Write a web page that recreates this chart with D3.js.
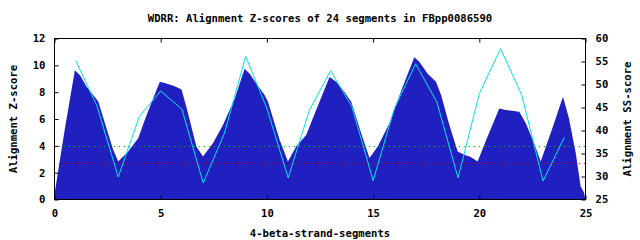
<!DOCTYPE html>
<html>
<head>
<meta charset="utf-8">
<script src="https://cdn.jsdelivr.net/npm/d3@7"></script>
<style>
  body { margin: 0; background: #fff; }
  text { font-family: "DejaVu Sans Mono", monospace; font-weight: bold; font-size: 10.6px; fill: #000; }
</style>
</head>
<body>
<div id="chart"></div>
<script>
// Z-score profile (filled area)
var zX = [0, 0.02, 0.18, 0.49, 0.96, 1.2, 1.51, 1.82, 2.06, 2.76, 3.0, 3.47, 3.94, 4.25, 4.64, 4.96,
          5.27, 5.66, 5.98, 6.21, 6.68, 6.99, 7.46, 7.93, 8.48, 8.95, 9.19, 9.5, 9.89, 10.05, 10.6,
          10.99, 11.38, 11.85, 12.32, 12.95, 13.26, 13.65, 13.97, 14.44, 14.83, 15.22, 15.77, 16.39,
          16.94, 17.18, 17.57, 17.96, 18.2, 18.59, 18.98, 19.29, 19.6, 19.92, 20.39, 20.94, 21.25,
          21.88, 22.19, 22.58, 22.89, 23.44, 23.94, 24.22, 24.54, 24.77, 24.93, 25];
var zY = [0, 0.6, 2.2, 5.3, 9.63, 9.26, 8.4, 7.78, 7.3, 3.7, 2.84, 3.58, 4.57, 5.93, 7.53, 8.77,
          8.64, 8.44, 8.2, 6.9, 3.95, 3.21, 4.2, 5.56, 7.5, 9.75, 9.38, 8.64, 7.78, 7.28, 4.44,
          2.84, 3.95, 4.81, 6.67, 9.13, 8.77, 8.02, 7.28, 4.94, 3.09, 3.95, 5.68, 8.39,
          10.6, 10.24, 9.38, 8.77, 7.78, 5.56, 3.58, 3.33, 3.16, 2.84, 4.69, 6.79, 6.67,
          6.54, 5.68, 4.2, 2.84, 5.31, 7.65, 6.05, 3.46, 0.99, 0.5, 0];

// SS-score per segment (right axis)
var segments = d3.range(1, 25);
var ssScore = [55.2, 45.3, 29.9, 43.1, 48.6, 44.6, 28.6, 39.4, 56.1, 44.8, 29.7, 44.4,
               53.0, 45.2, 29.1, 44.8, 54.5, 46.2, 29.7, 48.0, 57.8, 47.7, 29.0, 38.5];

// dotted threshold lines (Z-score)
var thresholds = [4.0, 2.72];
var thresholdColors = ["#00c000", "#e00000"];

var xTicks = [0, 5, 10, 15, 20, 25];
var yTicks = [0, 2, 4, 6, 8, 10, 12];
var y2Ticks = [25, 30, 35, 40, 45, 50, 55, 60];

(function() {
    var width = 640, height = 240;
    var pl = 54.5, pr = 585.5, pt = 38.5, pb = 199.5;

    var svg = d3.select("#chart").append("svg")
        .attr("width", width)
        .attr("height", height);

    var x = d3.scaleLinear().domain([0, 25]).range([pl, pr]);
    var y = d3.scaleLinear().domain([0, 12]).range([pb, pt]);
    var y2 = d3.scaleLinear().domain([25, 60]).range([pb, pt]);

    // filled area
    var area = d3.area()
        .x(function(d) { return x(d[0]); })
        .y0(y(0))
        .y1(function(d) { return y(d[1]); });

    svg.append("path")
        .datum(d3.zip(zX, zY))
        .attr("d", area)
        .attr("fill", "#2020c0");

    // threshold dotted lines
    thresholds.forEach(function(t, i) {
        var yy = Math.round(y(t)) + 0.5;
        svg.append("line")
            .attr("x1", x(0.2)).attr("x2", pr)
            .attr("y1", yy).attr("y2", yy)
            .attr("stroke", thresholdColors[i])
            .attr("stroke-width", 1.2)
            .attr("stroke-dasharray", "1.2,3.8");
    });

    // SS-score line
    var line = d3.line()
        .x(function(d) { return x(d[0]); })
        .y(function(d) { return y2(d[1]); });

    svg.append("path")
        .datum(d3.zip(segments, ssScore))
        .attr("d", line)
        .attr("fill", "none")
        .attr("stroke", "#00e4e8")
        .attr("stroke-width", 1);

    // border
    svg.append("rect")
        .attr("x", pl).attr("y", pt)
        .attr("width", pr - pl).attr("height", pb - pt)
        .attr("fill", "none")
        .attr("stroke", "#000");

    // axes, ticks pointing inwards
    var xAxisB = d3.axisBottom(x).tickValues(xTicks).tickSizeInner(-4).tickSizeOuter(0).tickPadding(10);
    var xAxisT = d3.axisTop(x).tickValues(xTicks).tickSizeInner(-4).tickSizeOuter(0).tickFormat("");
    var yAxisL = d3.axisLeft(y).tickValues(yTicks).tickSizeInner(-4).tickSizeOuter(0).tickPadding(9);
    var yAxisR = d3.axisRight(y2).tickValues(y2Ticks).tickSizeInner(-4).tickSizeOuter(0).tickPadding(10);

    function style(g) {
        g.select(".domain").remove();
        g.selectAll("line").attr("stroke", "#000");
        g.attr("font-family", null).attr("font-size", null);
    }

    svg.append("g").attr("transform", "translate(0," + pb + ")").call(xAxisB).call(style);
    svg.append("g").attr("transform", "translate(0," + pt + ")").call(xAxisT).call(style);
    svg.append("g").attr("transform", "translate(" + pl + ",0)").call(yAxisL).call(style);
    svg.append("g").attr("transform", "translate(" + pr + ",0)").call(yAxisR).call(style);

    // titles
    svg.append("text")
        .attr("x", 320).attr("y", 22)
        .attr("text-anchor", "middle")
        .text("WDRR: Alignment Z-scores of 24 segments in FBpp0086590");

    svg.append("text")
        .attr("x", 320).attr("y", 237)
        .attr("text-anchor", "middle")
        .text("4-beta-strand-segments");

    svg.append("text")
        .attr("transform", "translate(17,119) rotate(-90)")
        .attr("text-anchor", "middle")
        .text("Alignment Z-score");

    svg.append("text")
        .attr("transform", "translate(631,119) rotate(-90)")
        .attr("text-anchor", "middle")
        .text("Alignment SS-score");
})();
</script>
</body>
</html>
